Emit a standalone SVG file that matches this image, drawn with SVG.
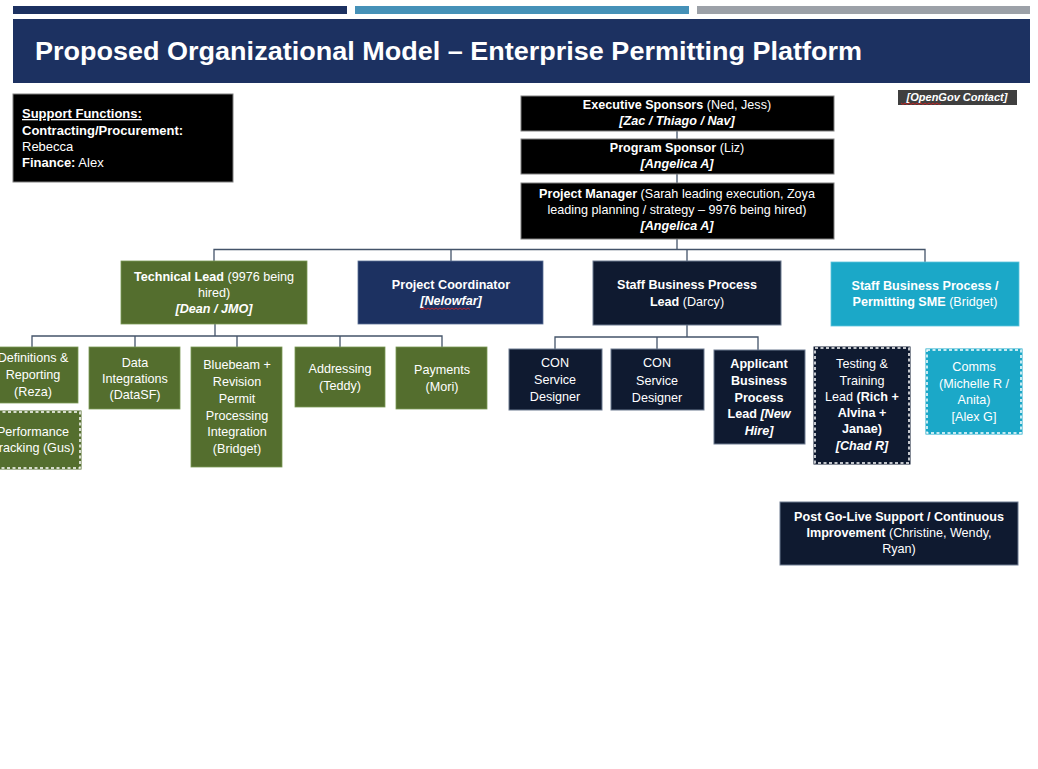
<svg xmlns="http://www.w3.org/2000/svg" width="1038" height="769" viewBox="0 0 1038 769">
<defs>
<style>
text{font-family:"Liberation Sans",Arial,sans-serif;font-size:12.6px;fill:#ffffff;text-anchor:middle}
.b{font-weight:bold}
.i{font-style:italic;font-weight:bold}
.l{text-anchor:start}
.blk{fill:#000000;stroke:#7f7f7f;stroke-width:1}
.grn{fill:#546e2e;stroke:#7a9a55;stroke-width:0.8}
.nav{fill:#1c3161;stroke:#5a6f95;stroke-width:0.8}
.drk{fill:#0f1a30;stroke:#6d7a90;stroke-width:1}
.cyn{fill:#1ba8c8;stroke:#5cc3dc;stroke-width:0.8}
.dash{fill:none;stroke:#ffffff;stroke-width:1.5;stroke-dasharray:3 2.5}
.conn{fill:none;stroke:#44546a;stroke-width:1.3}
.wavy{fill:none;stroke:#e02020;stroke-width:0.8}
</style>
</defs>
<rect x="0" y="0" width="1038" height="769" fill="#ffffff"/>
<g id="header">
<rect x="13" y="6" width="334" height="8" fill="#1c3161"/>
<rect x="355" y="6" width="334" height="8" fill="#4591b8"/>
<rect x="697" y="6" width="333" height="8" fill="#9ca1a8"/>
<rect x="13" y="19" width="1017" height="64" fill="#1c3161"/>
<text x="35" y="60" class="l b" style="font-size:25px" textLength="827" lengthAdjust="spacingAndGlyphs">Proposed Organizational Model – Enterprise Permitting Platform</text>
</g>
<g id="connectors" class="conn">
<path class="conn" d="M677 131V139M677 174V183M677 239V249.5"/>
<path class="conn" d="M214 261V249.5H925V262M451 249.5V261M687 249.5V261"/>
<path class="conn" d="M215 324V336M32 347V336H442V347M135 336V347M237 336V347M340 336V347"/>
<path class="conn" d="M687 325V337M555 349V337H758V350M657 337V349"/>
</g>
<g id="support">
<rect x="13" y="94" width="220" height="88" fill="#000000" stroke="#7f7f7f" stroke-width="1"/>
<text x="22" y="118" class="l b" text-decoration="underline" style="font-size:13px">Support Functions:</text>
<text x="22" y="135" class="l b" style="font-size:13px">Contracting/Procurement:</text>
<text x="22" y="151" class="l" style="font-size:13px">Rebecca</text>
<text x="22" y="167" class="l" style="font-size:13px"><tspan class="b">Finance:</tspan> Alex</text>
</g>
<g id="opengov">
<rect x="898" y="90" width="119" height="15" fill="#3f3f3f"/>
<text x="957" y="101" class="i" style="font-size:11px">[OpenGov Contact]</text>
<path class="wavy" d="M901 103l2 1.5l2-1.5l2 1.5l2-1.5l2 1.5l2-1.5l2 1.5l2-1.5l2 1.5l2-1.5l2 1.5l2-1.5l2 1.5l2-1.5l2 1.5l2-1.5l2 1.5l2-1.5l2 1.5l2-1.5"/>
</g>
<g id="exec">
<rect x="521" y="96" width="313" height="35" class="blk"/>
<text x="677" y="109"><tspan class="b">Executive Sponsors</tspan> (Ned, Jess)</text>
<text x="677" y="125" class="i">[Zac / Thiago / Nav]</text>
</g>
<g id="program">
<rect x="521" y="139" width="313" height="35" class="blk"/>
<text x="677" y="152"><tspan class="b">Program Sponsor</tspan> (Liz)</text>
<text x="677" y="168" class="i">[Angelica A]</text>
</g>
<g id="pm">
<rect x="521" y="183" width="313" height="56" class="blk"/>
<text x="677" y="198"><tspan class="b">Project Manager</tspan> (Sarah leading execution, Zoya</text>
<text x="677" y="214">leading planning / strategy – 9976 being hired)</text>
<text x="677" y="230" class="i">[Angelica A]</text>
</g>
<g id="techlead">
<rect x="121" y="261" width="186" height="63" class="grn"/>
<text x="214" y="281"><tspan class="b">Technical Lead</tspan> (9976 being</text>
<text x="214" y="297">hired)</text>
<text x="214" y="313" class="i">[Dean / JMO]</text>
</g>
<g id="coordinator">
<rect x="358" y="261" width="185" height="63" class="nav"/>
<text x="451" y="289" class="b">Project Coordinator</text>
<text x="451" y="305" class="i">[Nelowfar]</text>
<path class="wavy" d="M420 308l2 1.5l2-1.5l2 1.5l2-1.5l2 1.5l2-1.5l2 1.5l2-1.5l2 1.5l2-1.5l2 1.5l2-1.5l2 1.5l2-1.5l2 1.5l2-1.5l2 1.5l2-1.5l2 1.5l2-1.5l2 1.5l2-1.5l2 1.5l2-1.5l2 1.5"/>
</g>
<g id="staffbp">
<rect x="593" y="261" width="188" height="64" class="drk"/>
<text x="687" y="289" class="b">Staff Business Process</text>
<text x="687" y="306"><tspan class="b">Lead</tspan> (Darcy)</text>
</g>
<g id="sme">
<rect x="831" y="262" width="188" height="64" class="cyn"/>
<text x="925" y="290" class="b">Staff Business Process /</text>
<text x="925" y="306"><tspan class="b">Permitting SME</tspan> (Bridget)</text>
</g>
<g id="definitions">
<rect x="-12" y="347" width="90" height="56" class="grn"/>
<text x="33" y="362">Definitions &amp;</text>
<text x="33" y="379">Reporting</text>
<text x="33" y="396">(Reza)</text>
</g>
<g id="performance">
<rect x="-14" y="412" width="94" height="56" fill="#546e2e" stroke="#546e2e" stroke-width="3"/>
<rect x="-14" y="412" width="94" height="56" class="dash"/>
<text x="33" y="436">Performance</text>
<text x="33" y="452">Tracking (Gus)</text>
</g>
<g id="dataint">
<rect x="89" y="347" width="91" height="62" class="grn"/>
<text x="135" y="367">Data</text>
<text x="135" y="383">Integrations</text>
<text x="135" y="399">(DataSF)</text>
</g>
<g id="bluebeam">
<rect x="191" y="347" width="91" height="120" class="grn"/>
<text x="237" y="369">Bluebeam +</text>
<text x="237" y="386">Revision</text>
<text x="237" y="403">Permit</text>
<text x="237" y="420">Processing</text>
<text x="237" y="436">Integration</text>
<text x="237" y="453">(Bridget)</text>
</g>
<g id="addressing">
<rect x="295" y="347" width="90" height="60" class="grn"/>
<text x="340" y="373">Addressing</text>
<text x="340" y="390">(Teddy)</text>
</g>
<g id="payments">
<rect x="396" y="347" width="91" height="62" class="grn"/>
<text x="442" y="374">Payments</text>
<text x="442" y="391">(Mori)</text>
</g>
<g id="con1">
<rect x="509" y="349" width="93" height="61" class="drk"/>
<text x="555" y="367">CON</text>
<text x="555" y="384">Service</text>
<text x="555" y="401">Designer</text>
</g>
<g id="con2">
<rect x="611" y="349" width="93" height="61" class="drk"/>
<text x="657" y="367">CON</text>
<text x="657" y="385">Service</text>
<text x="657" y="402">Designer</text>
</g>
<g id="applicant">
<rect x="714" y="350" width="91" height="94" class="drk"/>
<text x="759" y="368" class="b">Applicant</text>
<text x="759" y="385" class="b">Business</text>
<text x="759" y="402" class="b">Process</text>
<text x="759" y="418"><tspan class="b">Lead</tspan> <tspan class="i">[New</tspan></text>
<text x="759" y="435" class="i">Hire]</text>
</g>
<g id="testing">
<rect x="815" y="348" width="94" height="115" fill="#0f1a30" stroke="#0f1a30" stroke-width="3"/>
<rect x="815" y="348" width="94" height="115" class="dash"/>
<text x="862" y="368">Testing &amp;</text>
<text x="862" y="385">Training</text>
<text x="862" y="401">Lead <tspan class="b">(Rich +</tspan></text>
<text x="862" y="417" class="b">Alvina +</text>
<text x="862" y="433" class="b">Janae)</text>
<text x="862" y="450" class="i">[Chad R]</text>
</g>
<g id="comms">
<rect x="927" y="350" width="94" height="83" fill="#1ba8c8" stroke="#1ba8c8" stroke-width="3"/>
<rect x="927" y="350" width="94" height="83" class="dash"/>
<text x="974" y="371">Comms</text>
<text x="974" y="388">(Michelle R /</text>
<text x="974" y="404">Anita)</text>
<text x="974" y="421">[Alex G]</text>
</g>
<g id="postgolive">
<rect x="780" y="502" width="238" height="63" class="drk"/>
<text x="899" y="521" class="b">Post Go-Live Support / Continuous</text>
<text x="899" y="537"><tspan class="b">Improvement</tspan> (Christine, Wendy,</text>
<text x="899" y="553">Ryan)</text>
</g>
</svg>
